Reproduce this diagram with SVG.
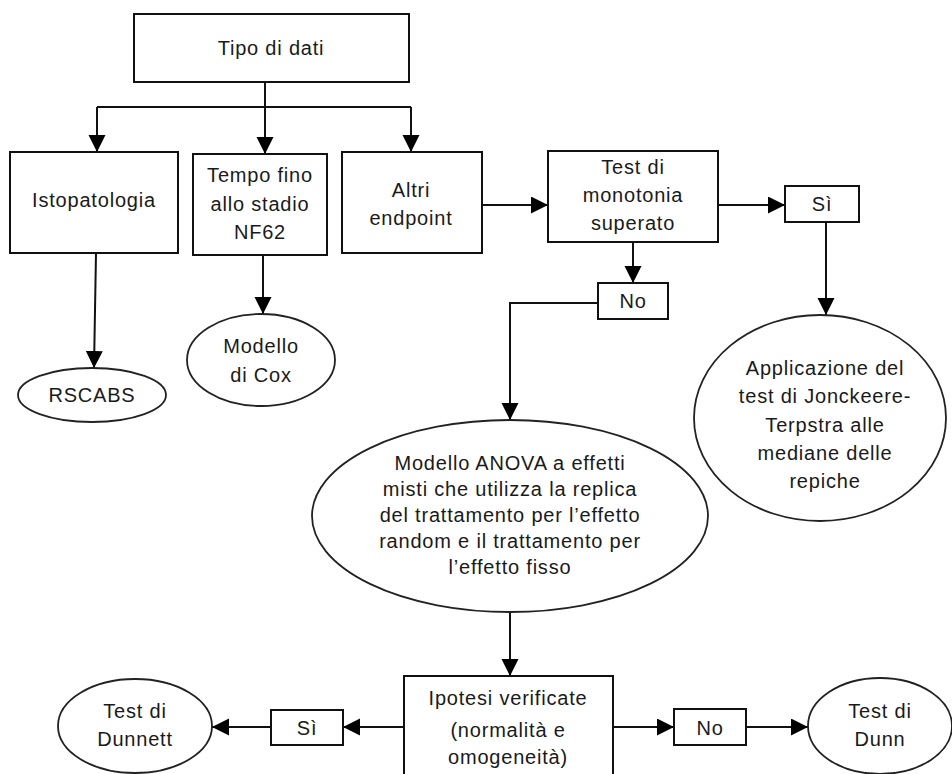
<svg xmlns="http://www.w3.org/2000/svg" width="952" height="774" viewBox="0 0 952 774">
<style>
  .box{fill:#fff;stroke:#111;stroke-width:2}
  .ell{fill:#fff;stroke:#222;stroke-width:1.8}
  .c{fill:none;stroke:#111;stroke-width:2}
  text{font-family:"Liberation Sans",Arial,sans-serif;font-size:20px;fill:#1a1a1a;text-anchor:middle;letter-spacing:0.8px}
</style>
<defs>
  <marker id="ah" markerUnits="userSpaceOnUse" markerWidth="18" markerHeight="18" refX="17" refY="8.5" orient="auto">
    <path d="M0,0 L17,8.5 L0,17 z" fill="#000"/>
  </marker>
</defs>
<rect width="952" height="774" fill="#fff"/>
<g id="connectors">
  <path class="c" d="M265,82 V107"/>
  <path class="c" d="M97,107 H411"/>
  <path class="c" d="M97,107 V152" marker-end="url(#ah)"/>
  <path class="c" d="M265,107 V154" marker-end="url(#ah)"/>
  <path class="c" d="M411,107 V152" marker-end="url(#ah)"/>
  <path class="c" d="M96,253 L94,368" marker-end="url(#ah)"/>
  <path class="c" d="M263,255 V314" marker-end="url(#ah)"/>
  <path class="c" d="M482,205 H548" marker-end="url(#ah)"/>
  <path class="c" d="M718,205 H785" marker-end="url(#ah)"/>
  <path class="c" d="M826,222 V315" marker-end="url(#ah)"/>
  <path class="c" d="M633,242 V283" marker-end="url(#ah)"/>
  <path class="c" d="M598,303 H510 V420" marker-end="url(#ah)"/>
  <path class="c" d="M510,612 V676" marker-end="url(#ah)"/>
  <path class="c" d="M404,727 H343" marker-end="url(#ah)"/>
  <path class="c" d="M271,727 H212" marker-end="url(#ah)"/>
  <path class="c" d="M613,727 H674" marker-end="url(#ah)"/>
  <path class="c" d="M746,727 H808" marker-end="url(#ah)"/>
</g>
<g id="tipo">
  <rect class="box" x="134" y="14" width="275" height="68"/>
  <text x="271" y="55">Tipo di dati</text>
</g>
<g id="isto">
  <rect class="box" x="10" y="152" width="168" height="101"/>
  <text x="94" y="207">Istopatologia</text>
</g>
<g id="tempo">
  <rect class="box" x="193" y="154" width="134" height="101"/>
  <text x="260" y="182">Tempo fino</text>
  <text x="260" y="211">allo stadio</text>
  <text x="260" y="239">NF62</text>
</g>
<g id="altri">
  <rect class="box" x="342" y="152" width="140" height="101"/>
  <text x="411" y="197">Altri</text>
  <text x="411" y="225">endpoint</text>
</g>
<g id="monotonia">
  <rect class="box" x="548" y="151" width="170" height="91"/>
  <text x="633" y="174">Test di</text>
  <text x="633" y="202">monotonia</text>
  <text x="633" y="230">superato</text>
</g>
<g id="si1">
  <rect class="box" x="785" y="186" width="74" height="36"/>
  <text x="822" y="211">Sì</text>
</g>
<g id="no1">
  <rect class="box" x="598" y="283" width="70" height="36"/>
  <text x="633" y="308">No</text>
</g>
<g id="rscabs">
  <ellipse class="ell" cx="92" cy="395" rx="74" ry="27"/>
  <text x="92" y="402">RSCABS</text>
</g>
<g id="cox">
  <ellipse class="ell" cx="261" cy="360" rx="74" ry="46"/>
  <text x="261" y="353">Modello</text>
  <text x="261" y="382">di Cox</text>
</g>
<g id="jonckheere">
  <ellipse class="ell" cx="820" cy="418" rx="126" ry="103"/>
  <text x="825" y="375">Applicazione del</text>
  <text x="825" y="403">test di Jonckeere-</text>
  <text x="825" y="432">Terpstra alle</text>
  <text x="825" y="460">mediane delle</text>
  <text x="825" y="488">repiche</text>
</g>
<g id="anova">
  <ellipse class="ell" cx="510" cy="516" rx="198" ry="96"/>
  <text x="510" y="470">Modello ANOVA a effetti</text>
  <text x="510" y="496">misti che utilizza la replica</text>
  <text x="510" y="522">del trattamento per l’effetto</text>
  <text x="510" y="548">random e il trattamento per</text>
  <text x="510" y="574">l’effetto fisso</text>
</g>
<g id="ipotesi">
  <rect class="box" x="404" y="676" width="209" height="110"/>
  <text x="508" y="705">Ipotesi verificate</text>
  <text x="508" y="737">(normalità e</text>
  <text x="508" y="764">omogeneità)</text>
</g>
<g id="si2">
  <rect class="box" x="271" y="710" width="72" height="35"/>
  <text x="307" y="735">Sì</text>
</g>
<g id="dunnett">
  <ellipse class="ell" cx="135" cy="726" rx="77" ry="47"/>
  <text x="135" y="718">Test di</text>
  <text x="135" y="746">Dunnett</text>
</g>
<g id="no2">
  <rect class="box" x="674" y="709" width="72" height="36"/>
  <text x="710" y="735">No</text>
</g>
<g id="dunn">
  <ellipse class="ell" cx="880" cy="726" rx="72" ry="48"/>
  <text x="880" y="718">Test di</text>
  <text x="880" y="746">Dunn</text>
</g>
</svg>
